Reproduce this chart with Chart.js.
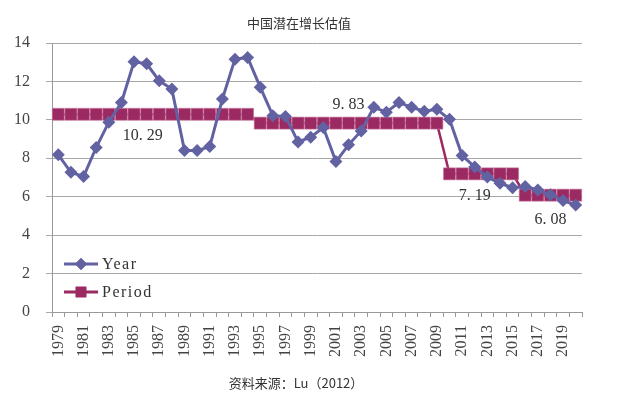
<!DOCTYPE html>
<html>
<head>
<meta charset="utf-8">
<script src="https://cdn.jsdelivr.net/npm/chart.js@4"></script>
<style>
  html, body { margin: 0; padding: 0; background: #ffffff; }
  #wrap { width: 620px; height: 399px; position: relative; }
</style>
</head>
<body>
<div id="wrap"><canvas id="c" width="620" height="399"></canvas></div>
<script>
// ---- data ----
const years = [];
for (let y = 1979; y <= 2020; y++) years.push(String(y));
const yearValues = [
  8.18, 7.27, 7.05, 8.56, 9.88, 10.9, 13.02, 12.92, 12.03, 11.6,
  8.4, 8.4, 8.61, 11.08, 13.16, 13.25, 11.7, 10.22, 10.18, 8.85,
  9.1, 9.6, 7.83, 8.7, 9.42, 10.65, 10.4, 10.9, 10.65, 10.45,
  10.55, 10.03, 8.14, 7.55, 7.03, 6.7, 6.47, 6.53, 6.35, 6.1,
  5.8, 5.57
];
const periodValues = [
  10.29, 10.29, 10.29, 10.29, 10.29, 10.29, 10.29, 10.29, 10.29, 10.29,
  10.29, 10.29, 10.29, 10.29, 10.29, 10.29,
  9.83, 9.83, 9.83, 9.83, 9.83, 9.83, 9.83, 9.83, 9.83, 9.83,
  9.83, 9.83, 9.83, 9.83, 9.83,
  7.19, 7.19, 7.19, 7.19, 7.19, 7.19,
  6.08, 6.08, 6.08, 6.08, 6.08
];
const seriesNames = ['Year', 'Period'];
// period labels: [category index, value, vertical offset]
const periodLabels = [[6.7, 10.29, 22], [23, 9.83, -18], [33, 7.19, 22], [39, 6.08, 25]];
const titleText = '中国潜在增长估值';
const sourceText = '资料来源：Lu（2012）';
const yTicks = [0, 2, 4, 6, 8, 10, 12, 14];

const YEAR_COLOR = '#6262a2';
const PERIOD_COLOR = '#9b2a62';
const SERIF = '"Liberation Serif", "DejaVu Serif", serif';
const CJK = '"Noto Sans CJK SC", sans-serif';

const textPlugin = {
  id: 'extraText',
  afterDraw(chart) {
    const ctx = chart.ctx;
    const xs = chart.scales.x, ys = chart.scales.y;
    ctx.save();
    ctx.fillStyle = '#333';
    ctx.font = '13px ' + CJK;
    ctx.textAlign = 'center';
    ctx.textBaseline = 'middle';
    ctx.fillText(titleText, 299, 23);
    ctx.fillText(sourceText, 296, 383);
    ctx.font = '16px ' + SERIF;
    ctx.fillStyle = '#333';
    periodLabels.forEach(([i, v, dy]) => {
      const x = xs.getPixelForValue(i);
      const y = ys.getPixelForValue(v) + dy;
      ctx.fillText(v.toFixed(2).replace('.', '. '), x, y);
    });
    const items = [
      { name: seriesNames[0], color: YEAR_COLOR, style: 'rectRot', r: 6, y: 264 },
      { name: seriesNames[1], color: PERIOD_COLOR, style: 'rect', r: 7.5, y: 292 }
    ];
    items.forEach(it => {
      ctx.strokeStyle = it.color;
      ctx.lineWidth = 3;
      ctx.beginPath();
      ctx.moveTo(64, it.y);
      ctx.lineTo(98, it.y);
      ctx.stroke();
      ctx.fillStyle = it.color;
      Chart.helpers.drawPoint(ctx, { pointStyle: it.style, radius: it.r, borderWidth: 0 }, 81, it.y);
      ctx.fill();
      ctx.fillStyle = '#333';
      ctx.font = '16px ' + SERIF;
      ctx.textAlign = 'left';
      ctx.textBaseline = 'middle';
      ctx.letterSpacing = '1.5px';
      ctx.fillText(it.name, 102, it.y + 1);
      ctx.letterSpacing = '0px';
    });
    ctx.restore();
  }
};

new Chart(document.getElementById('c'), {
  type: 'line',
  data: {
    labels: years,
    datasets: [
      {
        label: seriesNames[1],
        data: periodValues,
        borderColor: PERIOD_COLOR,
        backgroundColor: PERIOD_COLOR,
        borderWidth: 2.5,
        pointStyle: 'rect',
        pointRadius: 8.5,
        pointBorderColor: '#c9789f',
        pointBorderWidth: 0.6,
        tension: 0,
        order: 2
      },
      {
        label: seriesNames[0],
        data: yearValues,
        borderColor: YEAR_COLOR,
        backgroundColor: YEAR_COLOR,
        borderWidth: 3,
        pointStyle: 'rectRot',
        pointRadius: 6.5,
        pointBorderWidth: 0,
        tension: 0,
        order: 1
      }
    ]
  },
  options: {
    responsive: false,
    animation: false,
    devicePixelRatio: 1,
    layout: { padding: { left: 0, right: 38, top: 43, bottom: 0 } },
    plugins: {
      legend: { display: false },
      title: { display: false },
      tooltip: { enabled: false }
    },
    scales: {
      x: {
        offset: true,
        afterFit(s) { s.height = 87; },
        grid: {
          offset: true,
          drawOnChartArea: false,
          drawTicks: true,
          tickLength: 5,
          color: '#999'
        },
        border: { color: '#999', width: 1 },
        ticks: {
          autoSkip: false,
          maxRotation: 90,
          minRotation: 90,
          padding: 8,
          color: '#444',
          font: { family: SERIF, size: 16 },
          callback(v, i) { return i % 2 === 0 ? years[i] : ''; }
        }
      },
      y: {
        min: 0,
        max: 14,
        afterFit(s) { s.width = 52; },
        afterBuildTicks(s) { s.ticks = yTicks.map(v => ({ value: v })); },
        grid: { color: '#a8a8a8', lineWidth: 1, tickLength: 6 },
        border: { color: '#999', width: 1 },
        ticks: {
          padding: 16,
          color: '#444',
          font: { family: SERIF, size: 16 }
        }
      }
    }
  },
  plugins: [textPlugin]
});
</script>
</body>
</html>
